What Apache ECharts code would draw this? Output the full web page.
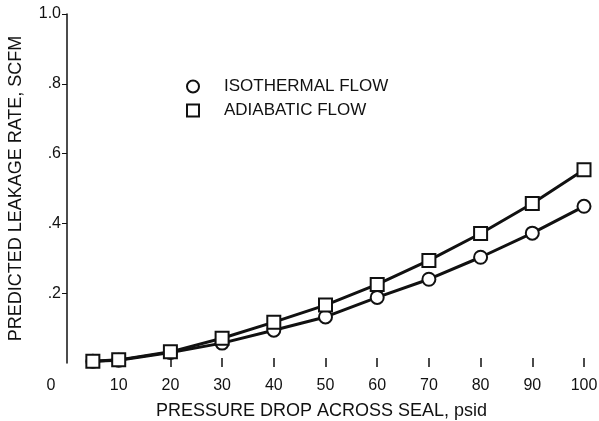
<!DOCTYPE html>
<html>
<head>
<meta charset="utf-8">
<script src="https://cdn.jsdelivr.net/npm/echarts@6/dist/echarts.min.js"></script>
<style>
  html, body { margin: 0; padding: 0; background: #fff; }
  #chart { width: 599px; height: 421px; }
</style>
</head>
<body>
<div id="chart"></div>
<script>
// pressure drop, psid
const pressureDrop = [5, 10, 20, 30, 40, 50, 60, 70, 80, 90, 100]
// predicted leakage rate, SCFM
const isothermal = [0.005, 0.008, 0.03, 0.057, 0.094, 0.132, 0.188, 0.24, 0.303, 0.372, 0.449]
const adiabatic = [0.005, 0.009, 0.032, 0.071, 0.117, 0.166, 0.225, 0.294, 0.371, 0.457, 0.554]

const xTickLabels = ['0', '10', '20', '30', '40', '50', '60', '70', '80', '90', '100']
const yTickLabels = ['', '.2', '.4', '.6', '.8', '1.0']
const xTickValues = [10, 20, 30, 40, 50, 60, 70, 80, 90, 100]
const yTickValues = [0.2, 0.4, 0.6, 0.8, 1.0]

const font = '"Liberation Sans", Arial, sans-serif'
const ink = '#111'

const chart = echarts.init(document.getElementById('chart'))

function pairs(ys) {
  return pressureDrop.map((x, i) => [x, ys[i]])
}

const markerStyle = { color: '#fff', borderColor: ink, borderWidth: 2 }

chart.setOption({
  backgroundColor: '#fff',
  animation: false,
  grid: { left: 67, right: 15, top: 14, bottom: 58, outerBoundsMode: 'none', containLabel: false },
  legend: {
    orient: 'vertical',
    left: 181,
    top: 73,
    itemWidth: 12,
    itemHeight: 12,
    itemGap: 7,
    textStyle: { fontFamily: font, fontSize: 17, color: ink, padding: [0, 0, 0, 20] },
    data: [
      { name: 'ISOTHERMAL FLOW', icon: 'circle', itemStyle: markerStyle },
      { name: 'ADIABATIC FLOW', icon: 'rect', itemStyle: markerStyle }
    ]
  },
  xAxis: {
    type: 'value',
    min: 0,
    max: 100,
    interval: 10,
    offset: -5,
    name: 'PRESSURE DROP ACROSS SEAL, psid',
    nameLocation: 'middle',
    nameGap: 44,
    nameTextStyle: { fontFamily: font, fontSize: 18, color: ink, padding: [0, 8, 0, 0] },
    axisLine: { show: false },
    axisTick: {
      show: true,
      length: 9,
      lineStyle: { color: ink, width: 1.5 },
      customValues: xTickValues
    },
    axisLabel: {
      margin: 20,
      fontFamily: font,
      fontSize: 16,
      color: ink,
      formatter: (v) => {
        const s = xTickLabels[Math.round(v / 10)]
        return v === 0 ? '{z|' + s + '}' : s
      },
      rich: { z: { fontFamily: font, fontSize: 16, color: ink, padding: [0, 32, 0, 0] } }
    },
    splitLine: { show: false }
  },
  yAxis: {
    type: 'value',
    min: 0,
    max: 1.0,
    interval: 0.2,
    name: 'PREDICTED LEAKAGE RATE, SCFM',
    nameLocation: 'middle',
    nameGap: 42,
    nameTextStyle: { fontFamily: font, fontSize: 18, color: ink },
    axisLine: { show: true, lineStyle: { color: ink, width: 1.5 } },
    axisTick: {
      show: true,
      length: 5,
      lineStyle: { color: ink, width: 1 },
      customValues: yTickValues
    },
    axisLabel: {
      margin: 6,
      fontFamily: font,
      fontSize: 16,
      color: ink,
      formatter: (v) => yTickLabels[Math.round(v / 0.2)]
    },
    splitLine: { show: false }
  },
  series: [
    {
      name: 'ISOTHERMAL FLOW',
      type: 'line',
      data: pairs(isothermal),
      symbol: 'circle',
      symbolSize: 13,
      color: ink,
      itemStyle: markerStyle,
      lineStyle: { color: ink, width: 3 }
    },
    {
      name: 'ADIABATIC FLOW',
      type: 'line',
      data: pairs(adiabatic),
      symbol: 'rect',
      symbolSize: 13,
      color: ink,
      itemStyle: markerStyle,
      lineStyle: { color: ink, width: 3 }
    }
  ]
})
</script>
</body>
</html>
